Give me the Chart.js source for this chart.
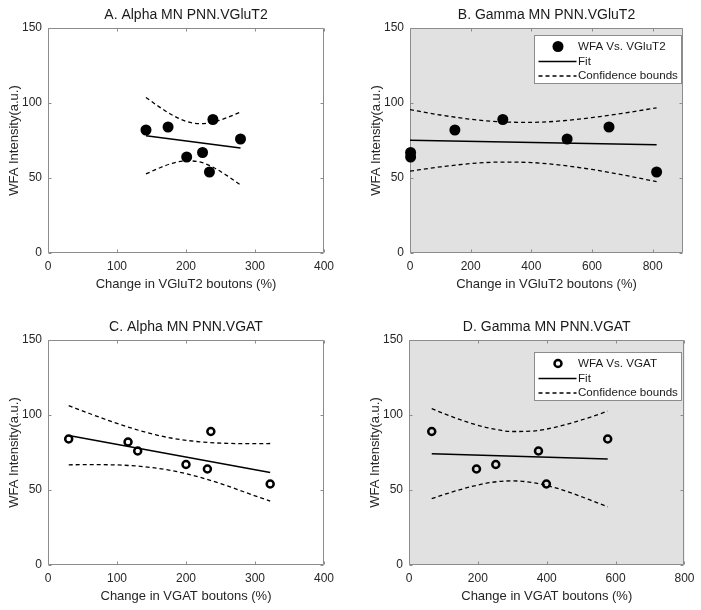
<!DOCTYPE html>
<html>
<head>
<meta charset="utf-8">
<script src="https://cdn.jsdelivr.net/npm/chart.js@4/dist/chart.umd.min.js"></script>
<style>
html,body{margin:0;padding:0;background:#ffffff;}
#wrap{position:relative;width:701px;height:610px;overflow:hidden;background:#fff;}
.cv{position:absolute;}
</style>
</head>
<body>
<div id="wrap">
  <canvas id="cA" class="cv" width="350" height="298" style="left:0px;top:0px"></canvas>
  <canvas id="cB" class="cv" width="351" height="298" style="left:350px;top:0px"></canvas>
  <canvas id="cC" class="cv" width="350" height="298" style="left:0px;top:312px"></canvas>
  <canvas id="cD" class="cv" width="351" height="298" style="left:350px;top:312px"></canvas>
</div>
<script>
// ---------- text ----------
const titleA = 'A. Alpha MN PNN.VGluT2';
const titleB = 'B. Gamma MN PNN.VGluT2';
const titleC = 'C. Alpha MN PNN.VGAT';
const titleD = 'D. Gamma MN PNN.VGAT';
const xLabelVGluT2 = 'Change in VGluT2 boutons (%)';
const xLabelVGAT = 'Change in VGAT boutons (%)';
const yLabel = 'WFA Intensity(a.u.)';
const seriesVGluT2 = 'WFA Vs. VGluT2';
const seriesVGAT = 'WFA Vs. VGAT';
const fitLabel = 'Fit';
const boundsLabel = 'Confidence bounds';

// ---------- tick labels ----------
const yTicks = [0, 50, 100, 150];
const xTicksA = [0, 100, 200, 300, 400];
const xTicksB = [0, 200, 400, 600, 800];
const xTicksC = [0, 100, 200, 300, 400];
const xTicksD = [0, 200, 400, 600, 800];
const xMaxA = 400, xMaxB = 900, xMaxC = 400, xMaxD = 800;

// ---------- Panel A ----------
const aX = [142, 174, 201, 224, 234, 239, 279];
const aY = [82, 84, 64, 67, 54, 89, 76];
const aFitX = [142, 279];
const aFitY = [78.2, 70.0];
const aBoundX = [142, 160, 180, 200, 220, 240, 260, 279];
const aUpper = [103.7, 97.8, 92.0, 87.8, 86.2, 87.4, 90.3, 94.0];
const aLower = [52.7, 56.4, 59.8, 61.4, 60.7, 57.0, 51.4, 45.4];

// ---------- Panel B ----------
const bX = [2, 2, 148, 306, 518, 656, 813];
const bY = [67, 64, 82, 89, 76, 84, 54];
const bFitX = [0, 813];
const bFitY = [75.1, 72.2];
const bBoundX = [0, 100, 200, 300, 400, 500, 600, 700, 813];
const bUpper = [95.6, 92.0, 89.2, 87.4, 87.1, 88.1, 90.3, 93.1, 96.8];
const bLower = [54.6, 57.4, 59.6, 60.6, 60.3, 58.5, 55.7, 52.1, 47.6];

// ---------- Panel C ----------
const cX = [30, 116, 130, 200, 231, 236, 322];
const cY = [84, 82, 76, 67, 64, 89, 54];
const cFitX = [30, 322];
const cFitY = [86.4, 61.7];
const cBoundX = [30, 60, 100, 140, 180, 220, 260, 300, 322];
const cUpper = [106.2, 101.0, 94.4, 88.7, 84.5, 82.1, 81.1, 80.9, 81.0];
const cLower = [66.8, 66.9, 66.7, 65.5, 62.9, 58.5, 52.7, 46.1, 42.6];

// ---------- Panel D ----------
const dX = [66, 196, 252, 376, 399, 577];
const dY = [89, 64, 67, 76, 54, 84];
const dFitX = [66, 577];
const dFitY = [74.2, 70.6];
const dBoundX = [66, 120, 180, 240, 300, 360, 420, 480, 540, 577];
const dUpper = [104.2, 99.3, 94.5, 90.9, 89.0, 89.3, 91.6, 95.2, 99.6, 102.6];
const dLower = [44.2, 48.3, 52.2, 55.1, 56.1, 54.9, 51.8, 47.3, 42.1, 38.8];

// ---------- helpers ----------
const FONT = "'Liberation Sans', Arial, Helvetica, sans-serif";
const TXT = '#262626';
const FRAME = '#8c8c8c';
const GRAYBG = '#e1e1e1';

function pts(xs, ys) { return xs.map((x, i) => ({x: x, y: ys[i]})); }

const matlabPlugin = {
  id: 'matlabAxes',
  beforeDraw(chart, args, opts) {
    const a = chart.chartArea, ctx = chart.ctx;
    ctx.save();
    ctx.fillStyle = opts.bg || '#ffffff';
    ctx.fillRect(a.left, a.top, a.right - a.left, a.bottom - a.top);
    ctx.restore();
  },
  beforeDatasetsDraw(chart) {
    const a = chart.chartArea, ctx = chart.ctx;
    const xs = chart.scales.x, ys = chart.scales.y;
    const L = Math.round(a.left) + 0.5, R = Math.round(a.right) - 0.5;
    const T = Math.round(a.top) + 0.5, B = Math.round(a.bottom) - 0.5;
    ctx.save();
    ctx.strokeStyle = FRAME;
    ctx.lineWidth = 1;
    ctx.beginPath();
    ctx.rect(L, T, R - L, B - T);
    const tl = 3;
    xs.ticks.forEach(t => {
      const p = Math.round(xs.getPixelForValue(t.value)) + 0.5;
      ctx.moveTo(p, B); ctx.lineTo(p, B - tl);
      ctx.moveTo(p, T); ctx.lineTo(p, T + tl);
    });
    ys.ticks.forEach(t => {
      const p = Math.round(ys.getPixelForValue(t.value)) + 0.5;
      ctx.moveTo(L, p); ctx.lineTo(L + tl, p);
      ctx.moveTo(R, p); ctx.lineTo(R - tl, p);
    });
    ctx.stroke();
    ctx.restore();
  },
  afterDatasetsDraw(chart, args, opts) {
    const lg = opts.legend;
    if (!lg) return;
    const a = chart.chartArea, ctx = chart.ctx;
    const ds = chart.data.datasets;
    const w = 147, h = 48;
    const bx = Math.round(a.right - lg.right - w) + 0.5;
    const by = Math.round(a.top + lg.top) + 0.5;
    ctx.save();
    ctx.fillStyle = '#ffffff';
    ctx.fillRect(bx, by, w, h);
    ctx.strokeStyle = FRAME;
    ctx.lineWidth = 1;
    ctx.strokeRect(bx, by, w, h);
    const rows = [11, 26, 40.5];
    const mx = bx + 23.5, my = by + rows[0];
    ctx.beginPath();
    if (lg.open) {
      ctx.arc(mx, my, 3.5, 0, Math.PI * 2);
      ctx.lineWidth = 2.5; ctx.strokeStyle = '#000'; ctx.stroke();
    } else {
      ctx.arc(mx, my, 5.5, 0, Math.PI * 2);
      ctx.fillStyle = '#000'; ctx.fill();
    }
    ctx.beginPath();
    ctx.strokeStyle = '#000'; ctx.lineWidth = 1.5;
    ctx.moveTo(bx + 4, by + rows[1]); ctx.lineTo(bx + 42, by + rows[1]);
    ctx.stroke();
    ctx.beginPath();
    ctx.setLineDash([4, 3]);
    ctx.lineWidth = 1.3;
    ctx.moveTo(bx + 4, by + rows[2]); ctx.lineTo(bx + 42, by + rows[2]);
    ctx.stroke();
    ctx.setLineDash([]);
    ctx.fillStyle = '#1a1a1a';
    ctx.font = '11.6px ' + FONT;
    ctx.textBaseline = 'middle';
    ctx.textAlign = 'left';
    const labels = [ds[0].label, ds[1].label, ds[2].label];
    ctx.fillText(labels[0], bx + 43.5, by + rows[0]);
    ctx.fillText(labels[1], bx + 43.5, by + rows[1]);
    ctx.fillText(labels[2], bx + 43.5, by + rows[2]);
    ctx.restore();
  }
};

function makeChart(id, o) {
  const ctx = document.getElementById(id);
  return new Chart(ctx, {
    type: 'scatter',
    data: {
      datasets: [
        {
          label: o.series,
          data: pts(o.x, o.y),
          showLine: false,
          pointRadius: o.open ? 3.5 : 5.5,
          pointHoverRadius: o.open ? 3.5 : 5.5,
          pointBackgroundColor: o.open ? 'rgba(0,0,0,0)' : '#000000',
          pointBorderColor: '#000000',
          pointBorderWidth: o.open ? 2.5 : 0,
          clip: false,
          order: 0
        },
        {
          label: fitLabel,
          data: pts(o.fitX, o.fitY),
          showLine: true,
          borderColor: '#000000',
          borderWidth: 1.5,
          pointRadius: 0,
          order: 1
        },
        {
          label: boundsLabel,
          data: pts(o.boundX, o.upper),
          showLine: true,
          borderColor: '#000000',
          borderWidth: 1.3,
          borderDash: [4, 3],
          pointRadius: 0,
          cubicInterpolationMode: 'monotone',
          order: 2
        },
        {
          label: boundsLabel + ' (lower)',
          data: pts(o.boundX, o.lower),
          showLine: true,
          borderColor: '#000000',
          borderWidth: 1.3,
          borderDash: [4, 3],
          pointRadius: 0,
          cubicInterpolationMode: 'monotone',
          order: 3
        }
      ]
    },
    options: {
      responsive: false,
      animation: false,
      devicePixelRatio: 1,
      events: [],
      layout: { padding: { left: o.padL, right: o.padR, top: 0, bottom: 0 } },
      scales: {
        x: {
          type: 'linear',
          min: 0,
          max: o.xMax,
          afterBuildTicks: s => { s.ticks = o.xTicks.map(v => ({value: v})); },
          afterFit: s => { s.height = 45; },
          grid: { display: false, drawTicks: false },
          border: { display: false },
          ticks: { padding: 6.5, color: TXT, font: { family: FONT, size: 12 }, maxRotation: 0, autoSkip: false },
          title: { display: true, text: o.xLabel, color: TXT, font: { family: FONT, size: 13 }, padding: { top: 0, bottom: 5.5 } }
        },
        y: {
          type: 'linear',
          min: 0,
          max: 150,
          afterBuildTicks: s => { s.ticks = yTicks.map(v => ({value: v})); },
          afterFit: s => { s.width = 48; },
          grid: { display: false, drawTicks: false },
          border: { display: false },
          ticks: { padding: 6, color: TXT, font: { family: FONT, size: 12 } },
          title: { display: true, text: yLabel, color: TXT, font: { family: FONT, size: 13 }, padding: { top: 6.4, bottom: 0 } }
        }
      },
      plugins: {
        legend: { display: false },
        tooltip: { enabled: false },
        title: {
          display: true,
          text: o.title,
          fullSize: false,
          color: '#1a1a1a',
          font: { family: FONT, size: 14, weight: 'normal' },
          padding: { top: 6.5, bottom: 4.7 }
        },
        matlabAxes: { bg: o.bg, legend: o.legend }
      }
    },
    plugins: [matlabPlugin]
  });
}

makeChart('cA', { title: titleA, series: seriesVGluT2, open: false, x: aX, y: aY, fitX: aFitX, fitY: aFitY,
  boundX: aBoundX, upper: aUpper, lower: aLower, xTicks: xTicksA, xMax: xMaxA, xLabel: xLabelVGluT2,
  padL: 0, padR: 26, bg: '#ffffff', legend: null });
makeChart('cB', { title: titleB, series: seriesVGluT2, open: false, x: bX, y: bY, fitX: bFitX, fitY: bFitY,
  boundX: bBoundX, upper: bUpper, lower: bLower, xTicks: xTicksB, xMax: xMaxB, xLabel: xLabelVGluT2,
  padL: 12, padR: 18, bg: GRAYBG, legend: { open: false, right: 2, top: 7 } });
makeChart('cC', { title: titleC, series: seriesVGAT, open: true, x: cX, y: cY, fitX: cFitX, fitY: cFitY,
  boundX: cBoundX, upper: cUpper, lower: cLower, xTicks: xTicksC, xMax: xMaxC, xLabel: xLabelVGAT,
  padL: 0, padR: 26, bg: '#ffffff', legend: null });
makeChart('cD', { title: titleD, series: seriesVGAT, open: true, x: dX, y: dY, fitX: dFitX, fitY: dFitY,
  boundX: dBoundX, upper: dUpper, lower: dLower, xTicks: xTicksD, xMax: xMaxD, xLabel: xLabelVGAT,
  padL: 11, padR: 16, bg: GRAYBG, legend: { open: true, right: 3, top: 12 } });
</script>
</body>
</html>
